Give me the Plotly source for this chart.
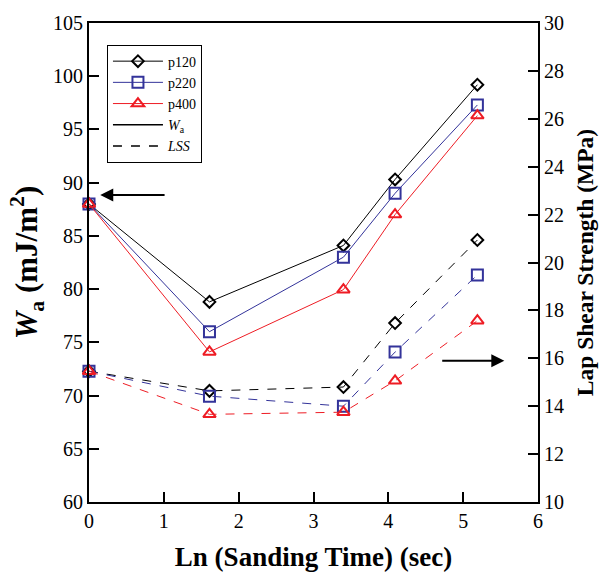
import plotly.graph_objects as go

# Ln(sanding time) values
x_vals = [0.0, 1.61, 3.40, 4.09, 5.19]

# Work of adhesion Wa (mJ/m^2), left axis
wa_p120 = [88.0, 78.8, 84.1, 90.3, 99.2]
wa_p220 = [88.0, 76.0, 83.0, 89.0, 97.3]
wa_p400 = [88.0, 74.1, 79.95, 87.0, 96.3]

# Lap shear strength (MPa), right axis
lss_p120 = [15.46, 14.64, 14.80, 17.47, 20.94]
lss_p220 = [15.46, 14.42, 14.00, 16.26, 19.48]
lss_p400 = [15.46, 13.66, 13.75, 15.06, 17.57]

series_names = ["p120", "p220", "p400"]
colors = ["#000000", "#33339a", "#ee1c24"]
symbols = ["diamond-open", "square-open", "triangle-up-open"]
msizes = [9, 11, 11]

FONT = "Times New Roman, Liberation Serif, DejaVu Serif, serif"

fig = go.Figure()

wa_all = [wa_p120, wa_p220, wa_p400]
lss_all = [lss_p120, lss_p220, lss_p400]

for name, c, s, ms, wa in zip(series_names, colors, symbols, msizes, wa_all):
    fig.add_trace(go.Scatter(
        x=x_vals, y=wa, mode="lines+markers", name=name,
        line=dict(color=c, width=1),
        marker=dict(symbol=s, size=ms, color=c, line=dict(color=c, width=2)),
        cliponaxis=False, yaxis="y"))

for name, c, s, ms, ls in zip(series_names, colors, symbols, msizes, lss_all):
    fig.add_trace(go.Scatter(
        x=x_vals, y=ls, mode="lines+markers", name=name, showlegend=False,
        line=dict(color=c, width=1, dash="dash"),
        marker=dict(symbol=s, size=ms, color=c, line=dict(color=c, width=2)),
        cliponaxis=False, yaxis="y2"))

# legend-only entries for line styles
fig.add_trace(go.Scatter(x=[None], y=[None], mode="lines",
                         name="<i>W</i><sub>a</sub>",
                         line=dict(color="black", width=1.5)))
fig.add_trace(go.Scatter(x=[None], y=[None], mode="lines",
                         name="<i>LSS</i>",
                         line=dict(color="black", width=1.5, dash="dash")))

# arrows indicating axes
fig.add_annotation(x=0.15, y=88.85, ax=1.03, ay=88.85, xref="x", yref="y",
                   axref="x", ayref="y", text="", showarrow=True,
                   arrowhead=2, arrowsize=1.3, arrowwidth=2, arrowcolor="black")
fig.add_annotation(x=5.55, y=73.27, ax=4.7, ay=73.27, xref="x", yref="y",
                   axref="x", ayref="y", text="", showarrow=True,
                   arrowhead=2, arrowsize=1.3, arrowwidth=2, arrowcolor="black")

fig.update_layout(
    width=616, height=579,
    margin=dict(l=89, r=78, t=21, b=76),
    plot_bgcolor="white", paper_bgcolor="white",
    font=dict(family=FONT, size=20, color="black"),
    showlegend=True,
    legend=dict(x=0.04, y=0.955, xanchor="left", yanchor="top",
                bordercolor="black", borderwidth=1, bgcolor="white",
                font=dict(family=FONT, size=14, color="black"), tracegroupgap=0,
                itemsizing="trace", itemwidth=50),
    xaxis=dict(range=[0, 6], dtick=1, tick0=0, showline=True, linecolor="black",
               linewidth=2, mirror=True, ticks="inside", ticklen=10, tickwidth=2,
               tickcolor="black", showgrid=False, zeroline=False,
               tickfont=dict(family=FONT, size=20),
               title=dict(text="Ln (Sanding Time) (sec)",
                          font=dict(family=FONT, size=27, weight="bold"),
                          standoff=16)),
    yaxis=dict(range=[60, 105], dtick=5, tick0=60, showline=True, linecolor="black",
               linewidth=2, mirror=True, ticks="inside", ticklen=10, tickwidth=2,
               tickcolor="black", showgrid=False, zeroline=False,
               tickfont=dict(family=FONT, size=20),
               title=dict(text="<i>W</i><sub>a</sub> (mJ/m<sup>2</sup>)",
                          font=dict(family=FONT, size=31, weight="bold"),
                          standoff=6)),
    yaxis2=dict(range=[10, 30], dtick=2, tick0=10, overlaying="y", side="right",
                showline=True, linecolor="black", linewidth=2, ticks="inside",
                ticklen=10, tickwidth=2, tickcolor="black", showgrid=False,
                zeroline=False, tickfont=dict(family=FONT, size=20),
                title=dict(text="Lap Shear Strength (MPa)",
                           font=dict(family=FONT, size=23.5, weight="bold"),
                           standoff=14)),
)

fig.write_html("out.html")
